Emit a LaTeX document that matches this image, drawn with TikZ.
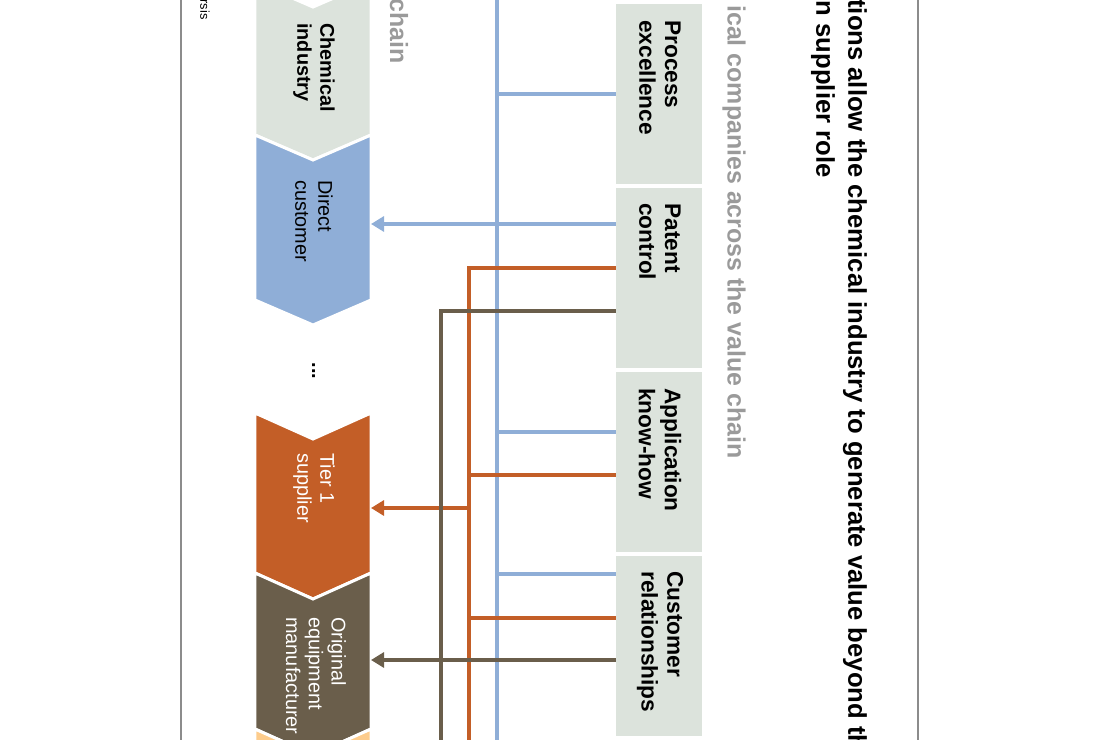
\documentclass[tikz,border=0pt]{standalone}
\usepackage{fontspec}
\setmainfont{Liberation Sans}
\usetikzlibrary{arrows.meta}
\definecolor{boxgray}{HTML}{DCE3DC}
\definecolor{cblue}{HTML}{8FAED7}
\definecolor{corange}{HTML}{C35E27}
\definecolor{cbrown}{HTML}{6A5E4B}
\definecolor{clight}{HTML}{FDCC8C}
\definecolor{subgray}{HTML}{9A9A9A}
\definecolor{framegray}{HTML}{8C8C8C}

\begin{document}
\begin{tikzpicture}[x=0.02cm, y=-0.02cm,
  chev/.style={draw=white, line width=1.7pt, line join=miter},
  lbl/.style={rotate=-90, anchor=west, inner sep=0pt, align=left, font=\fontsize{11.3}{13}\selectfont},
  comptext/.style={rotate=-90, anchor=west, inner sep=0pt, align=left, font=\fontsize{12.9}{14.7}\selectfont\bfseries},
  ttl/.style={rotate=-90, anchor=west, inner sep=0pt, font=\fontsize{14.6}{18}\selectfont\bfseries},
  sub/.style={rotate=-90, inner sep=0pt, subgray, font=\fontsize{14.2}{16}\selectfont\bfseries},
  blk/.style={rotate=-90, fill=boxgray, minimum width=102pt, minimum height=48.8pt, inner sep=0pt},
  bline/.style={cblue, line width=2.5pt},
  oline/.style={corange, line width=2.5pt},
  wline/.style={cbrown, line width=2.5pt},
  arr/.style={-{Triangle[length=7.4pt,width=8.5pt]}}]
  \useasboundingbox (0,0) rectangle (1100,740);
  \clip (0,0) rectangle (1100,740);

  % frame
  \draw[framegray, line width=0.7pt] (181,-10) -- (181,760) (918,-10) -- (918,760);

  % headings
  \node[ttl] (title1) at (855,-1) {tions allow the chemical industry to generate value beyond th};
  \node[ttl, anchor=east] (title2) at (823,178) {on supplier role};
  \node[sub, anchor=east] (sub1) at (734,459) {ical companies across the value chain};
  \node[sub, anchor=east] (sub2) at (399,64) {chain};
  \node[rotate=-90, anchor=east, inner sep=0pt, font=\fontsize{7.3}{9}\selectfont] (src) at (205,20) {rsis};

  % value chain
  \fill[boxgray, chev] (255,-18) -- (313,7) -- (371,-18) -- (371,135) -- (313,160) -- (255,135) -- cycle;
  \fill[cblue, chev] (255,135) -- (313,160) -- (371,135) -- (371,300) -- (313,325) -- (255,300) -- cycle;
  \fill[corange, chev] (255,413) -- (313,439) -- (371,413) -- (371,573) -- (313,599) -- (255,573) -- cycle;
  \fill[cbrown, chev] (255,573) -- (313,599) -- (371,573) -- (371,729) -- (313,755) -- (255,729) -- cycle;
  \fill[clight, chev] (255,729) -- (313,755) -- (371,729) -- (371,900) -- (255,900) -- cycle;

  \node[lbl, font=\fontsize{11.3}{13}\selectfont\bfseries] (chem) at (314,23) {Chemical\\industry};
  \node[lbl] (dcust) at (314,180) {Direct\\customer};
  \node[lbl, white] (tier) at (314,453) {Tier 1\\supplier};
  \node[lbl, white] (oem) at (316,617) {Original\\equipment\\manufacturer};
  \node[rotate=-90, anchor=base, inner sep=0pt, font=\fontsize{11.3}{13}\selectfont\bfseries] (gap) at (312,371) {...};

  % competences
  \node[blk] (blk0) at (659,-90) {};
  \node[blk] (pe) at (659,94) {};
  \node[blk] (pc) at (659,278) {};
  \node[blk] (ak) at (659,462) {};
  \node[blk] (cr) at (659,646) {};
  \node[blk] (blk5) at (659,830) {};
  \node[comptext] (pe-t) at (660,20) {Process\\excellence};
  \node[comptext] (pc-t) at (660,203) {Patent\\control};
  \node[comptext] (ak-t) at (660,388) {Application\\know-how};
  \node[comptext] (cr-t) at (660,571) {Customer\\relationships};

  \coordinate (bb-top) at (497,-10);
  \coordinate (bb-bot) at (497,760);
  \coordinate (ob-bot) at (469,760);
  \coordinate (wb-bot) at (441,760);
  \coordinate (dcust-in) at (371,224);
  \coordinate (tier-in) at (371,508);
  \coordinate (oem-in) at (371,660);

  % links
  \draw[bline] (bb-top) -- (bb-bot);
  \draw[bline] (pe.south) -- (pe.south -| bb-top);
  \draw[bline, arr] (pc.south |- 0,224) -- (dcust-in);
  \draw[bline] (ak.south |- 0,432) -- (bb-top |- 0,432);
  \draw[bline] (cr.south |- 0,574) -- (bb-top |- 0,574);

  \draw[oline] (pc.south |- 0,268) -| (ob-bot);
  \draw[oline] (ak.south |- 0,475) -- (ob-bot |- 0,475);
  \draw[oline] (cr.south |- 0,618) -- (ob-bot |- 0,618);
  \draw[oline, arr] (ob-bot |- 0,508) -- (tier-in);

  \draw[wline] (pc.south |- 0,311) -| (wb-bot);
  \draw[wline, arr] (cr.south |- 0,660) -- (oem-in);
\end{tikzpicture}
\end{document}
